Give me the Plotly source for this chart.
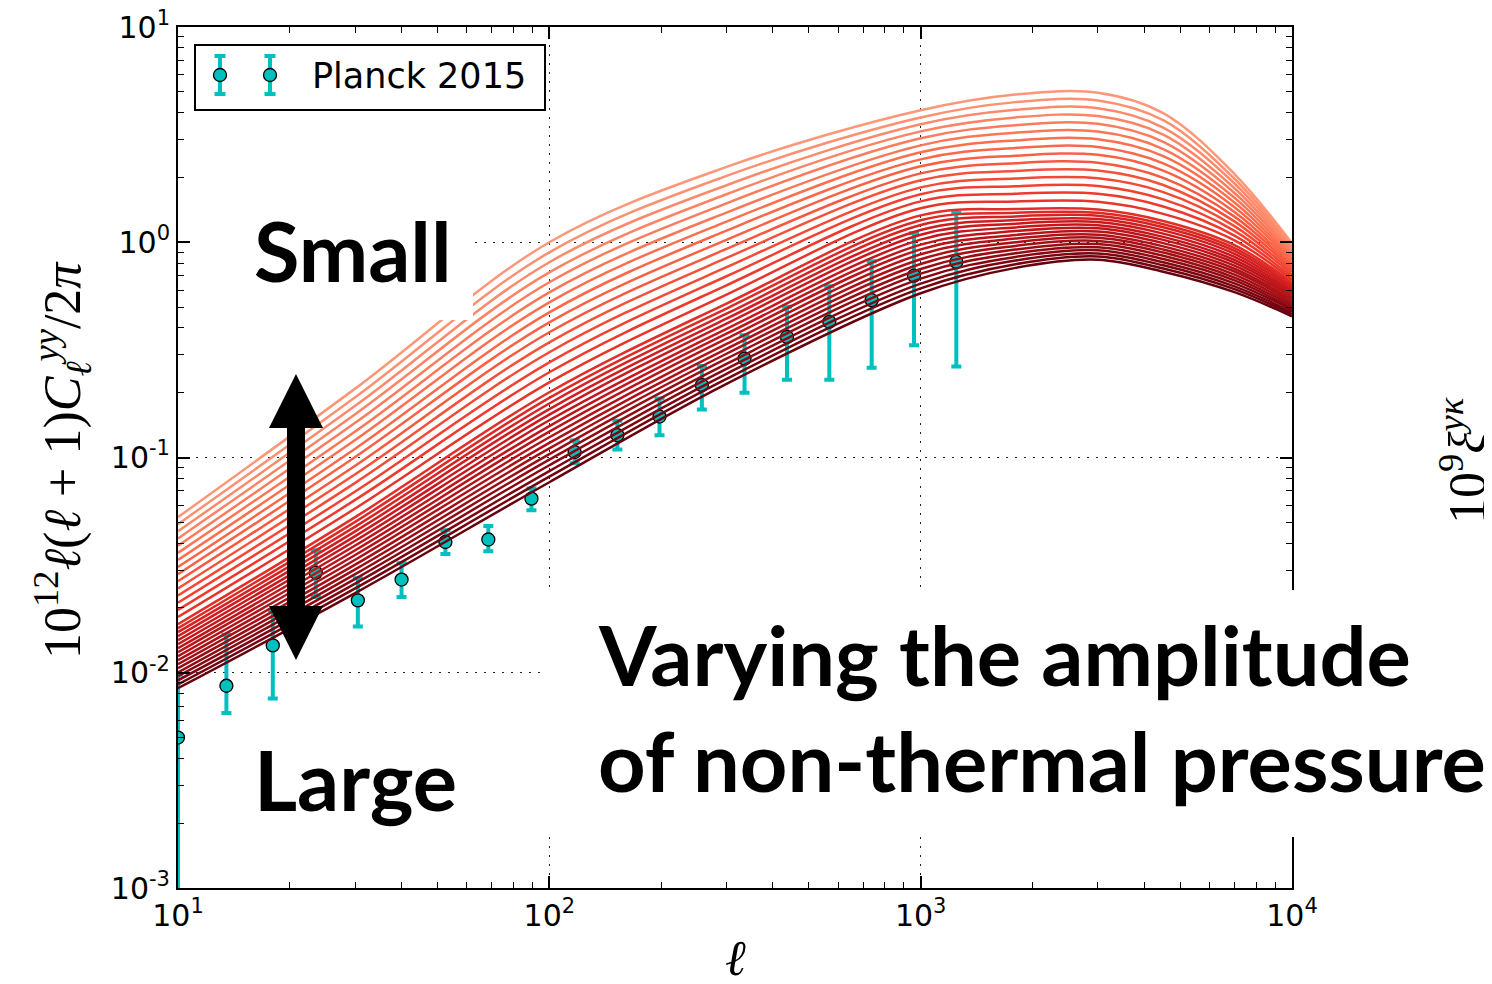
import plotly.graph_objects as go

# ---------------- layout helpers (page pixel -> paper) ----------------
# the page body adds an 8px offset, so the figure is 8px smaller and margins shifted
OFF = 8
PLOT_L, PLOT_R, PLOT_T, PLOT_B = 178, 1292, 27, 888
W, H = 1492 - OFF, 984 - OFF
PW, PH = PLOT_R - PLOT_L, PLOT_B - PLOT_T
ML, MT = PLOT_L - OFF, PLOT_T - OFF
MR, MB = W - ML - PW, H - MT - PH


def fx(x):
    return (x - PLOT_L) / PW


def fy(y):
    return (PLOT_B - y) / PH


# ---------------- data: Planck 2015 tSZ power spectrum ----------------
planck_ell = [10, 13.5, 18, 23.5, 30.5, 40, 52.5, 68.5, 89.5, 117, 152.5, 198,
              257.5, 335.5, 436.5, 567.5, 738, 959.5, 1247.5]
planck_y = [0.0050, 0.0087, 0.0134, 0.0292, 0.0217, 0.0271, 0.0405, 0.0416, 0.0644,
            0.106, 0.127, 0.155, 0.217, 0.288, 0.363, 0.427, 0.538, 0.70, 0.81]
planck_err_plus = [0.0048, 0.0063, 0.0061, 0.0079, 0.0058, 0.0052, 0.0054, 0.0064, 0.0073,
                   0.014, 0.021, 0.033, 0.049, 0.082, 0.138, 0.198, 0.278, 0.40, 0.56]
planck_err_minus = [0.0048, 0.0022, 0.0058, 0.0067, 0.0053, 0.0046, 0.0049, 0.0049, 0.0075,
                    0.012, 0.018, 0.028, 0.050, 0.088, 0.133, 0.197, 0.277, 0.368, 0.545]

# ---------------- data: model curves (log10 of y), read at each ell node ----------------
model_ell = [10, 30, 100, 300, 1000, 1800, 3000, 4500, 7000, 10000]

log_y_at_10 = [-1.277, -1.310, -1.343, -1.376, -1.410, -1.443, -1.476, -1.509, -1.542, -1.575,
               -1.608, -1.641, -1.675, -1.708, -1.741, -1.774, -1.793, -1.811, -1.830, -1.849,
               -1.867, -1.886, -1.904, -1.923, -1.942, -1.960, -1.979, -1.998, -2.016, -2.035,
               -2.054, -2.072]
log_y_at_30 = [-0.680, -0.720, -0.760, -0.799, -0.839, -0.879, -0.919, -0.959, -0.998, -1.038,
               -1.078, -1.118, -1.158, -1.197, -1.237, -1.277, -1.299, -1.321, -1.343, -1.365,
               -1.387, -1.409, -1.431, -1.453, -1.475, -1.498, -1.520, -1.542, -1.564, -1.586,
               -1.608, -1.630]
log_y_at_100 = [0.000, -0.047, -0.093, -0.140, -0.186, -0.233, -0.279, -0.326, -0.372, -0.418,
                -0.465, -0.511, -0.558, -0.604, -0.651, -0.697, -0.723, -0.749, -0.775, -0.801,
                -0.827, -0.854, -0.880, -0.906, -0.932, -0.958, -0.984, -1.010, -1.036, -1.063,
                -1.089, -1.115]
log_y_at_300 = [0.350, 0.308, 0.265, 0.223, 0.181, 0.138, 0.096, 0.054, 0.011, -0.031,
                -0.073, -0.116, -0.158, -0.200, -0.243, -0.285, -0.308, -0.332, -0.355, -0.378,
                -0.402, -0.425, -0.448, -0.472, -0.495, -0.518, -0.541, -0.565, -0.588, -0.611,
                -0.635, -0.658]
log_y_at_1000 = [0.613, 0.580, 0.548, 0.515, 0.483, 0.450, 0.418, 0.385, 0.353, 0.320,
                 0.288, 0.255, 0.223, 0.190, 0.158, 0.125, 0.102, 0.080, 0.057, 0.035,
                 0.012, -0.011, -0.033, -0.056, -0.079, -0.101, -0.124, -0.146, -0.169, -0.192,
                 -0.214, -0.237]
log_y_at_1800 = [0.686, 0.651, 0.615, 0.580, 0.544, 0.509, 0.473, 0.438, 0.402, 0.367,
                 0.331, 0.296, 0.260, 0.225, 0.189, 0.154, 0.137, 0.120, 0.103, 0.086,
                 0.069, 0.052, 0.034, 0.017, 0.000, -0.017, -0.034, -0.051, -0.068, -0.085,
                 -0.102, -0.119]
log_y_at_3000 = [0.695, 0.659, 0.623, 0.586, 0.550, 0.514, 0.478, 0.442, 0.406, 0.369,
                 0.333, 0.297, 0.261, 0.225, 0.188, 0.152, 0.137, 0.123, 0.108, 0.094,
                 0.079, 0.065, 0.050, 0.035, 0.021, 0.006, -0.008, -0.023, -0.037, -0.052,
                 -0.066, -0.081]
log_y_at_4500 = [0.600, 0.567, 0.533, 0.500, 0.466, 0.433, 0.400, 0.366, 0.333, 0.299,
                 0.266, 0.233, 0.199, 0.166, 0.132, 0.099, 0.084, 0.070, 0.055, 0.040,
                 0.025, 0.011, -0.004, -0.019, -0.034, -0.048, -0.063, -0.078, -0.093, -0.107,
                 -0.122, -0.137]
log_y_at_7000 = [0.317, 0.295, 0.273, 0.251, 0.229, 0.207, 0.185, 0.163, 0.141, 0.119,
                 0.097, 0.075, 0.053, 0.031, 0.009, -0.013, -0.027, -0.040, -0.054, -0.068,
                 -0.082, -0.095, -0.109, -0.123, -0.136, -0.150, -0.164, -0.177, -0.191, -0.205,
                 -0.218, -0.232]
log_y_at_10000 = [-0.005, -0.017, -0.029, -0.041, -0.053, -0.065, -0.077, -0.089, -0.102, -0.114,
                  -0.126, -0.138, -0.150, -0.162, -0.174, -0.186, -0.196, -0.206, -0.216, -0.226,
                  -0.235, -0.245, -0.255, -0.265, -0.275, -0.285, -0.295, -0.305, -0.314, -0.324,
                  -0.334, -0.344]

columns = [log_y_at_10, log_y_at_30, log_y_at_100, log_y_at_300, log_y_at_1000,
           log_y_at_1800, log_y_at_3000, log_y_at_4500, log_y_at_7000, log_y_at_10000]
n_curves = len(log_y_at_10)

# tick labels
x_tick_vals = [10, 100, 1000, 10000]
x_tick_text = ['10<sup>1</sup>', '10<sup>2</sup>', '10<sup>3</sup>', '10<sup>4</sup>']
y_tick_vals = [0.001, 0.01, 0.1, 1, 10]
y_tick_text = ['10<sup>-3</sup>', '10<sup>-2</sup>', '10<sup>-1</sup>', '10<sup>0</sup>', '10<sup>1</sup>']
legend_label = 'Planck 2015'

# ---------------- colours (matplotlib "Reds") ----------------
REDS = [(0.000, (255, 245, 240)), (0.125, (254, 224, 210)), (0.250, (252, 187, 161)),
        (0.375, (252, 146, 114)), (0.500, (251, 106, 74)), (0.625, (239, 59, 44)),
        (0.750, (203, 24, 29)), (0.875, (165, 15, 21)), (1.000, (103, 0, 13))]


def reds(t):
    for (t0, c0), (t1, c1) in zip(REDS[:-1], REDS[1:]):
        if t0 <= t <= t1:
            f = (t - t0) / (t1 - t0)
            c = [round(a + (b - a) * f) for a, b in zip(c0, c1)]
            return 'rgb(%d,%d,%d)' % tuple(c)
    return 'rgb(103,0,13)'


CYAN = '#00BFBF'

fig = go.Figure()

fig.add_trace(go.Scatter(
    x=planck_ell, y=planck_y, mode='markers', name=legend_label, showlegend=False,
    marker=dict(symbol='circle', size=13, color=CYAN, line=dict(color='black', width=1.3)),
    error_y=dict(type='data', symmetric=False, array=planck_err_plus,
                 arrayminus=planck_err_minus, color=CYAN, thickness=4, width=5),
    hoverinfo='skip'))

for i in range(n_curves):
    ys = [10 ** col[i] for col in columns]
    t = 0.36 + 0.64 * i / (n_curves - 1)
    fig.add_trace(go.Scatter(
        x=model_ell, y=ys, mode='lines', showlegend=False, hoverinfo='skip',
        line=dict(color=reds(t), width=2.5, shape='spline', smoothing=1.0)))

minor_x = [m * 10 ** k for k in range(1, 4) for m in range(2, 10)]
minor_y = [m * 10 ** k for k in range(-3, 1) for m in range(2, 10)]

axis_common = dict(
    type='log', ticks='inside', ticklen=12, tickwidth=1.5, tickcolor='black',
    showline=True, linecolor='black', linewidth=2, mirror='allticks',
    showgrid=True, gridcolor='#222', gridwidth=1, griddash='2px,7px', zeroline=False,
    tickfont=dict(family='DejaVu Sans', size=30, color='black'),
    ticklabeloverflow='allow',
)

fig.update_xaxes(range=[1, 4], tickvals=x_tick_vals, ticktext=x_tick_text,
                 minor=dict(tickvals=minor_x, ticks='inside', ticklen=6, tickwidth=1.2,
                            tickcolor='black', showgrid=False),
                 **axis_common)
fig.update_yaxes(range=[-3, 1], tickvals=y_tick_vals, ticktext=y_tick_text,
                 minor=dict(tickvals=minor_y, ticks='inside', ticklen=6, tickwidth=1.2,
                            tickcolor='black', showgrid=False),
                 **axis_common)

# ---------------- overlays: white boxes, arrow, legend ----------------
shapes = [
    dict(type='rect', xref='paper', yref='paper', layer='above',
         x0=fx(191), x1=fx(473), y0=fy(320), y1=fy(195),
         fillcolor='white', line=dict(width=0)),
    dict(type='rect', xref='paper', yref='paper', layer='above',
         x0=fx(543), x1=fx(1500), y0=fy(837), y1=fy(590),
         fillcolor='white', line=dict(width=0)),
]
arrow_pts = [(296, 374), (323, 428), (305, 428), (305, 606), (323, 606), (296, 660),
             (269, 606), (287, 606), (287, 428), (269, 428)]
path = 'M ' + ' L '.join('%.5f,%.5f' % (fx(a), fy(b)) for a, b in arrow_pts) + ' Z'
shapes.append(dict(type='path', xref='paper', yref='paper', layer='above', path=path,
                   fillcolor='black', line=dict(width=0)))

# legend box with two error-bar glyphs (matplotlib style)
shapes.append(dict(type='rect', xref='paper', yref='paper', layer='above',
                   x0=fx(195), x1=fx(545), y0=fy(110), y1=fy(45),
                   fillcolor='white', line=dict(color='black', width=2)))
for gx in (220, 270):
    gy = 75
    shapes.append(dict(type='line', xref='paper', yref='paper', layer='above',
                       x0=fx(gx), x1=fx(gx), y0=fy(gy + 19), y1=fy(gy - 19),
                       line=dict(color=CYAN, width=4)))
    for cy in (gy - 19, gy + 19):
        shapes.append(dict(type='line', xref='paper', yref='paper', layer='above',
                           x0=fx(gx - 5.5), x1=fx(gx + 5.5), y0=fy(cy), y1=fy(cy),
                           line=dict(color=CYAN, width=4)))
    shapes.append(dict(type='circle', xref='paper', yref='paper', layer='above',
                       x0=fx(gx - 6.5), x1=fx(gx + 6.5), y0=fy(gy + 6.5), y1=fy(gy - 6.5),
                       fillcolor=CYAN, line=dict(color='black', width=1.3)))

big = dict(family='Lato', size=83, color='black')
serif = 'Liberation Serif'
annotations = [
    dict(text=legend_label, x=fx(310), y=fy(76), xref='paper', yref='paper',
         xanchor='left', yanchor='middle', showarrow=False,
         font=dict(family='DejaVu Sans', size=35, color='black')),
    dict(text='<b>Small</b>', x=fx(252), y=fy(250), xref='paper', yref='paper',
         xanchor='left', yanchor='middle', showarrow=False, font=big),
    dict(text='<b>Large</b>', x=fx(252), y=fy(779), xref='paper', yref='paper',
         xanchor='left', yanchor='middle', showarrow=False, font=big),
    dict(text='<b>Varying the amplitude</b>', x=fx(596), y=fy(654), xref='paper', yref='paper',
         xanchor='left', yanchor='middle', showarrow=False, font=big),
    dict(text='<b>of non-thermal pressure</b>', x=fx(596), y=fy(760), xref='paper', yref='paper',
         xanchor='left', yanchor='middle', showarrow=False, font=big),
    dict(text='10<sup>12</sup><i>ℓ</i>(<i>ℓ</i> + 1)<i>C</i><sub><i>ℓ</i></sub><sup><i>yy</i></sup>/2<i>π</i>',
         x=fx(62), y=fy(460), xref='paper', yref='paper', textangle=-90,
         xanchor='center', yanchor='middle', showarrow=False,
         font=dict(family=serif, size=52, color='black')),
    dict(text='<i>ℓ</i>', x=fx(735), y=fy(958), xref='paper', yref='paper',
         xanchor='center', yanchor='middle', showarrow=False,
         font=dict(family=serif, size=50, color='black')),
    dict(text='10<sup>9</sup><i>ξ</i><sup><i>yκ</i></sup>', x=fx(1463), y=fy(460),
         xref='paper', yref='paper', textangle=-90, xanchor='center', yanchor='middle',
         showarrow=False, font=dict(family=serif, size=52, color='black')),
]

fig.update_layout(
    width=W, height=H,
    margin=dict(l=ML, r=MR, t=MT, b=MB, autoexpand=False),
    paper_bgcolor='white', plot_bgcolor='white',
    showlegend=False,
    shapes=shapes, annotations=annotations,
)

fig.write_html('out.html')
